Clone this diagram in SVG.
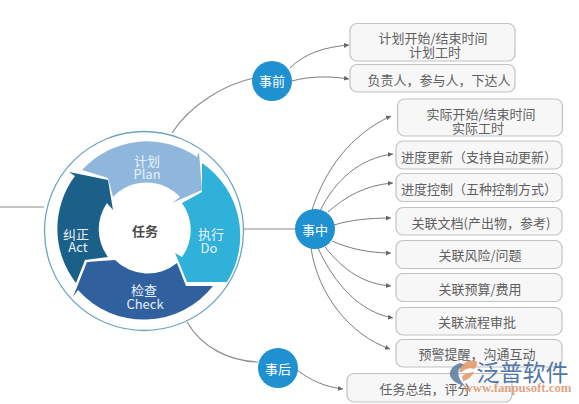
<svg xmlns="http://www.w3.org/2000/svg" width="579" height="404" viewBox="0 0 579 404">
<style>
text{font-family:"Noto Sans CJK SC","Noto Sans",sans-serif;text-anchor:middle;dominant-baseline:central}
.box{fill:#f7f7f7;stroke:#c2c2c2;stroke-width:1.2}
.t{font-size:13px;fill:#5f5f5f}
.hub{fill:#1f91d1}
.h{font-size:13px;fill:#fff}
.w{font-size:13px;fill:#e8f1f7}
.c{fill:none;stroke:#7d7d7d;stroke-width:1;marker-end:url(#a)}
.l{fill:none;stroke:#8c8c8c;stroke-width:1.2}
</style>
<defs><marker id="a" markerUnits="userSpaceOnUse" markerWidth="6" markerHeight="6" refX="5" refY="2.5" orient="auto"><path d="M0 0L5 2.5L0 5Z" fill="#666"/></marker></defs>
<rect width="579" height="404" fill="#fff"/>
<g id="connectors">
<path class="l" d="M0 207H44"/>
<path class="l" d="M243 229H297"/>
<path class="l" d="M172 133C190 105 225 84 254 78"/>
<path class="l" d="M187 322C202 348 230 361 258 362"/>
<path class="c" d="M290 68C305 53 325 47 349 45"/>
<path class="c" d="M292 81C310 76 330 76 349 79"/>
<path class="c" d="M312 210C325 170 350 135 391 116"/>
<path class="c" d="M320 211C335 180 360 158 393 154"/>
<path class="c" d="M328 212C345 197 365 185 393 183"/>
<path class="c" d="M334 225C350 220 370 218 391 218"/>
<path class="c" d="M332 241C350 249 370 253 391 253"/>
<path class="c" d="M325 247C345 272 365 284 391 286"/>
<path class="c" d="M318 248C335 285 360 312 393 318"/>
<path class="c" d="M311 248C318 295 350 335 390 349"/>
<path class="c" d="M297 370C310 380 325 387 343 389"/>
</g>
<g id="pdca">
<circle cx="144" cy="231" r="99.5" fill="#fff" stroke="#6da3bd" stroke-width="1.3"/>
<path fill="#8fb7dc" d="M82 170A88 88 0 0 1 197 157L199 152L202 190L172 203L180 197A46 46 0 0 0 113 197L108 178Z"/>
<path fill="#2fb1da" d="M202 163A88 88 0 0 1 227 282L187 282L175 253L182 257A46 46 0 0 0 182 203L202 192Z"/>
<path fill="#31609f" d="M213 286A88 88 0 0 1 78 290L73 297L87 262L115 260A46 46 0 0 0 177 263L186 286Z"/>
<path fill="#1b6088" d="M76 283A88 88 0 0 1 75 176L69 172L108 180L113 210L107 203A46 46 0 0 0 108 257L85 260Z"/>
<text class="w" x="147" y="160">计划</text><text class="w" x="147" y="173">Plan</text>
<text class="w" x="211" y="233">执行</text><text class="w" x="209" y="247">Do</text>
<text class="w" x="144" y="289">检查</text><text class="w" x="145" y="303">Check</text>
<text class="w" x="76" y="233">纠正</text><text class="w" x="78" y="246">Act</text>
<text x="145" y="230" font-size="13" font-weight="700" fill="#4a4a4a">任务</text>
</g>
<g id="hub-before"><circle class="hub" cx="272" cy="81" r="20"/><text class="h" x="272" y="80">事前</text></g>
<g id="hub-during"><circle class="hub" cx="315" cy="229" r="20"/><text class="h" x="315" y="229">事中</text></g>
<g id="hub-after"><circle class="hub" cx="278" cy="368" r="20"/><text class="h" x="278" y="368">事后</text></g>
<g id="n1"><rect class="box" x="350" y="23.500" width="165" height="37.500" rx="7"/><text class="t" x="433" y="37">计划开始/结束时间</text><text class="t" x="435" y="51">计划工时</text></g>
<g id="n2"><rect class="box" x="350" y="64.500" width="165" height="27.500" rx="7"/><text class="t" x="439" y="79">负责人，参与人，下达人</text></g>
<g id="n3"><rect class="box" x="397.500" y="99" width="165" height="37" rx="7"/><text class="t" x="481" y="113">实际开始/结束时间</text><text class="t" x="478" y="127">实际工时</text></g>
<g id="n4"><rect class="box" x="396" y="141" width="166" height="28" rx="7"/><text class="t" x="479" y="156">进度更新（支持自动更新）</text></g>
<g id="n5"><rect class="box" x="396" y="173.500" width="166" height="28" rx="7"/><text class="t" x="479" y="188">进度控制（五种控制方式）</text></g>
<g id="n6"><rect class="box" x="396" y="207.500" width="166" height="27.500" rx="7"/><text class="t" x="481" y="222">关联文档(产出物，参考)</text></g>
<g id="n7"><rect class="box" x="396" y="240.500" width="166" height="28" rx="7"/><text class="t" x="480" y="254">关联风险/问题</text></g>
<g id="n8"><rect class="box" x="396" y="273.500" width="166" height="28" rx="7"/><text class="t" x="480" y="288">关联预算/费用</text></g>
<g id="n9"><rect class="box" x="396" y="307.500" width="166" height="27.500" rx="7"/><text class="t" x="477" y="321">关联流程审批</text></g>
<g id="n10"><rect class="box" x="396" y="339.500" width="166" height="27.500" rx="7"/><text class="t" x="477" y="353">预警提醒，沟通互动</text></g>
<g id="n11"><rect class="box" x="347" y="373.500" width="165" height="28.500" rx="7"/><text class="t" x="425" y="388">任务总结，评分</text></g>
<g id="logo">
<path fill="#5f7fa6" opacity=".9" d="M460 363C453 365 449 371 450 375C451 380 457 384 465 386C460 381 457 375 459 369L466 365Z"/>
<path fill="#e39a6f" opacity=".9" d="M459 372C461 364 468 359 476 361C478 363 477 367 474 369C470 367 465 369 462 372Z"/>
<path fill="#e39a6f" opacity=".9" d="M462 376C466 373 471 372 474 372C472 376 468 380 463 381Z"/>
<text x="522.500" y="371" font-size="23" fill="#4f77a8">泛普软件</text>
<text x="517.500" y="388" font-size="12.800" font-weight="700" fill="#dc9a76" opacity=".9" style="font-family:'Liberation Serif',serif">www.fanpusoft.com</text>
</g>
</svg>
